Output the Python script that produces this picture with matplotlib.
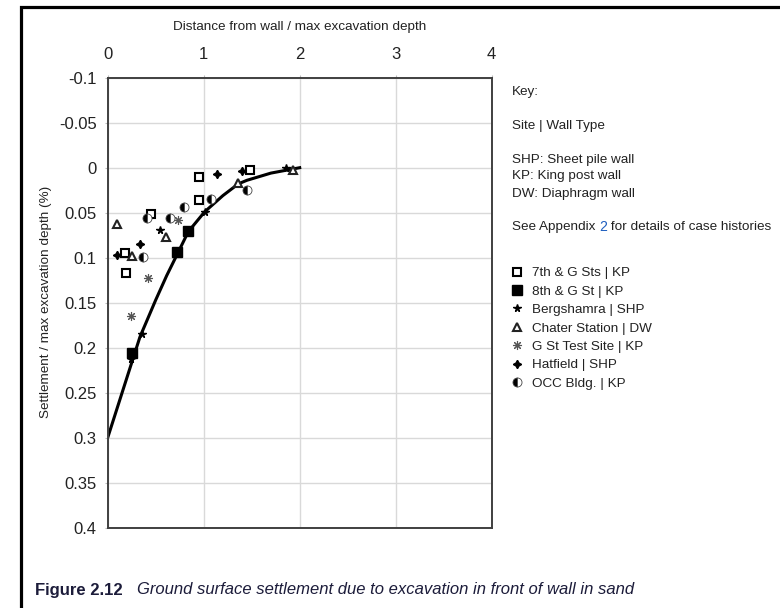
import matplotlib
matplotlib.use("Agg")
import matplotlib.pyplot as plt
from matplotlib.patches import Rectangle
from matplotlib.ticker import FormatStrFormatter, MultipleLocator

plt.rcParams['font.family'] = ['Liberation Sans', 'DejaVu Sans']

# case history points: distance / depth, settlement / depth (%)
seven_g_x = [0.18, 0.19, 0.45, 0.95, 0.95, 1.48]
seven_g_y = [0.095, 0.117, 0.051, 0.010, 0.036, 0.002]
eighth_g_x = [0.25, 0.725, 0.84]
eighth_g_y = [0.206, 0.094, 0.070]
berg_x = [0.24, 0.354, 0.545, 1.01, 1.86]
berg_y = [0.212, 0.185, 0.069, 0.049, 0.0]
chater_x = [0.10, 0.25, 0.607, 1.36, 1.93]
chater_y = [0.063, 0.098, 0.077, 0.017, 0.002]
gst_x = [0.24, 0.42, 0.735]
gst_y = [0.165, 0.123, 0.058]
hatfield_x = [0.10, 0.336, 1.135, 1.40]
hatfield_y = [0.097, 0.085, 0.007, 0.004]
occ_x = [0.41, 0.365, 0.65, 0.79, 1.08, 1.45]
occ_y = [0.056, 0.099, 0.056, 0.044, 0.035, 0.025]

# design envelope
curve_x = [0.0, 0.336, 0.50, 0.614, 0.725, 0.84, 1.01, 1.2, 1.36, 1.45, 1.7, 2.0]
curve_y = [0.300, 0.188, 0.147, 0.120, 0.096, 0.071, 0.049, 0.031, 0.018, 0.014, 0.006, 0.0]

series_labels = ["7th & G Sts | KP", "8th & G St | KP", "Bergshamra | SHP",
                 "Chater Station | DW", "G St Test Site | KP", "Hatfield | SHP",
                 "OCC Bldg. | KP"]

W, H = 780, 608
fs = 9.7
txt_col = '#222222'
fig = plt.figure(figsize=(7.8, 6.08), dpi=100)
ax = fig.add_axes([107.7 / W, 1 - 527.7 / H, 384 / W, 450 / H])

ax.plot(curve_x, curve_y, color='black', lw=2.2, zorder=2)

handles = []
h, = ax.plot(seven_g_x, seven_g_y, ls='none', marker='s', ms=6, mfc='white', mec='black', mew=1.5)
handles.append(h)
h, = ax.plot(eighth_g_x, eighth_g_y, ls='none', marker='s', ms=7, color='black')
handles.append(h)
h, = ax.plot(berg_x, berg_y, ls='none', marker='*', ms=5.5, color='black')
handles.append(h)
h, = ax.plot(chater_x, chater_y, ls='none', marker='^', ms=5.5, mfc='white', mec='#222222', mew=1.5)
handles.append(h)
h, = ax.plot(gst_x, gst_y, ls='none', marker=(8, 2, 0), ms=6.5, color='#555555', mew=0.8)
handles.append(h)
h, = ax.plot(hatfield_x, hatfield_y, ls='none', marker=(4, 1, 0), ms=6, color='black')
handles.append(h)
h, = ax.plot(occ_x, occ_y, ls='none', marker='o', ms=6.5, fillstyle='left', color='black',
             mfc='black', mfcalt='white', mec='#444444', mew=0.6)
handles.append(h)

ax.set_xlim(0, 4)
ax.set_ylim(0.4, -0.1)
ax.xaxis.set_major_locator(MultipleLocator(1))
ax.yaxis.set_major_locator(MultipleLocator(0.05))
ax.yaxis.set_major_formatter(FormatStrFormatter('%g'))
ax.xaxis.tick_top()
ax.xaxis.set_label_position('top')
ax.tick_params(axis='x', pad=9, length=2, color='#bbbbbb', labelsize=12, labelcolor=txt_col)
ax.tick_params(axis='y', pad=6, length=2, color='#bbbbbb', labelsize=12, labelcolor=txt_col)
ax.grid(True, color='#d9d9d9', lw=1)
ax.set_axisbelow(True)
for s in ax.spines.values():
    s.set_color('#404040')
    s.set_linewidth(1.4)

fig.text(299.7 / W, 1 - 27 / H, "Distance from wall / max excavation depth",
         ha='center', va='center', fontsize=fs, color=txt_col)
fig.text(46 / W, 1 - 302 / H, "Settlement / max excavation depth (%)", rotation=90,
         ha='center', va='center', fontsize=fs, color=txt_col)

# key text
kx = 512 / W
fig.text(kx, 1 - 92 / H, "Key:", va='center', fontsize=fs, color=txt_col)
fig.text(kx, 1 - 126 / H, "Site | Wall Type", va='center', fontsize=fs, color=txt_col)
fig.text(kx, 1 - 159.5 / H, "SHP: Sheet pile wall", va='center', fontsize=fs, color=txt_col)
fig.text(kx, 1 - 176.5 / H, "KP: King post wall", va='center', fontsize=fs, color=txt_col)
fig.text(kx, 1 - 194 / H, "DW: Diaphragm wall", va='center', fontsize=fs, color=txt_col)
t = fig.text(kx, 1 - 227 / H, "See Appendix ", va='center', fontsize=fs, color=txt_col)
fig.canvas.draw()
bb = t.get_window_extent()
t2 = fig.text(bb.x1 / W, 1 - 227 / H, "2", va='center', fontsize=fs + 0.5, color='#1f5fbf')
bb2 = t2.get_window_extent()
fig.text(bb2.x1 / W, 1 - 227 / H, " for details of case histories", va='center',
         fontsize=fs, color=txt_col)

fig.legend(handles, series_labels, loc='upper left', bbox_to_anchor=(511.3 / W, 1 - 267 / H),
           frameon=False, fontsize=fs, handlelength=0.8, handletextpad=0.71,
           labelspacing=0.44, borderpad=0, borderaxespad=0, numpoints=1,
           labelcolor=txt_col)

# outer frame and caption
fig.add_artist(Rectangle((21 / W, -0.2), 2, 1.2 - 7 / H, transform=fig.transFigure,
                         fill=False, lw=2.3, ec='black', clip_on=False))
fig.text(35 / W, 1 - 590 / H, "Figure 2.12", fontweight='bold', va='center',
         fontsize=12, color='#1c1c3a')
fig.text(137 / W, 1 - 590 / H, "Ground surface settlement due to excavation in front of wall in sand",
         style='italic', va='center', fontsize=12, color='#1c1c3a')

fig.savefig("out.png", dpi=100)
